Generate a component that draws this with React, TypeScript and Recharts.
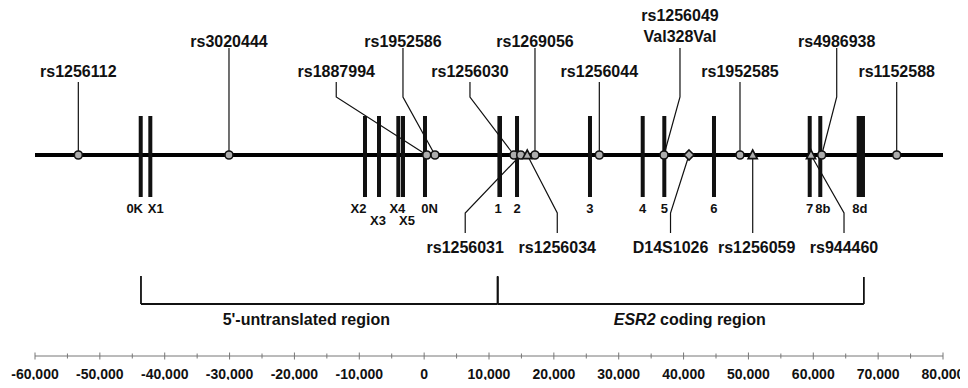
import React from "react";
import { ComposedChart, XAxis, YAxis, Scatter, ReferenceLine, ReferenceDot } from "recharts";

// exons (bp position relative to exon 0N start)
const exonNames = ["0K", "X1", "X2", "X3", "X4", "X5", "0N", "1", "2", "3", "4", "5", "6", "7", "8b", "8d"];
const exonPositions = [-43700, -42220, -9120, -6960, -3980, -3260, 130, 11650, 14320, 25570, 33700, 37030, 44690, 59450, 61080, 67330];

// polymorphisms
const snpNames = [
  "rs1256112", "rs3020444", "rs1887994", "rs1952586", "rs1256030", "rs1256031",
  "rs1256034", "rs1269056", "rs1256044", "rs1256049", "D14S1026", "rs1952585",
  "rs1256059", "rs944460", "rs4986938", "rs1152588",
];
const snpPositions = [
  -53320, -30090, 400, 1670, 13850, 14890,
  15900, 17090, 27010, 36980, 40840, 48700,
  50660, 59650, 61300, 72860,
];
const snpMarkers = [
  "circle", "circle", "circle", "circle", "circle", "circle",
  "triangle", "circle", "circle", "circle", "diamond", "circle",
  "triangle", "triangle", "circle", "circle",
];
const snpNotes: Record<string, string> = { rs1256049: "Val328Val" };

const regionNames = ["5'-untranslated region", "ESR2 coding region"];
const regionStarts = [-43660, 11340];
const regionEnds = [11340, 67800];

const majorTicks = [-60000, -50000, -40000, -30000, -20000, -10000, 0, 10000, 20000, 30000, 40000, 50000, 60000, 70000, 80000];
const minorTicks = [-55000, -45000, -35000, -25000, -15000, -5000, 5000, 15000, 25000, 35000, 45000, 55000, 65000, 75000];

// ---- layout (pixels) ----
const FONT = "'Liberation Sans', Arial, Helvetica, sans-serif";
const INK = "#111";
const GENE_Y = 155; // y axis runs in pixel rows of the plot

const exonLayout: Record<string, { dx?: number; row?: number; w?: number }> = {
  "0K": { dx: -6 },
  X1: { dx: 5.5 },
  X2: { dx: -6.5 },
  X3: { row: 2, dx: -1 },
  X4: { dx: -1 },
  X5: { row: 2, dx: 4 },
  "0N": { dx: 4.5 },
  "1": { w: 4.6, dx: -1.5 },
  "8b": { dx: 2.5 },
  "8d": { w: 8.3, dx: -1 },
};

const snpLayout: Record<string, { side: "top" | "bottom"; tier?: number; dx?: number; textDx?: number }> = {
  rs1256112: { side: "top", tier: 1 },
  rs3020444: { side: "top", tier: 2 },
  rs1887994: { side: "top", tier: 1, dx: -90.5 },
  rs1952586: { side: "top", tier: 2, dx: -32 },
  rs1256030: { side: "top", tier: 1, dx: -44 },
  rs1256031: { side: "bottom", dx: -55.5 },
  rs1256034: { side: "bottom", dx: 30 },
  rs1269056: { side: "top", tier: 2 },
  rs1256044: { side: "top", tier: 1 },
  rs1256049: { side: "top", tier: 2, dx: 16 },
  D14S1026: { side: "bottom", dx: -18.5 },
  rs1952585: { side: "top", tier: 1 },
  rs1256059: { side: "bottom", textDx: 4 },
  rs944460: { side: "bottom", dx: 33 },
  rs4986938: { side: "top", tier: 2, dx: 15 },
  rs1152588: { side: "top", tier: 1 },
};

const regionLabelDx = [-13, 9];

const exonData = exonNames.map((name, i) => ({ name, pos: exonPositions[i], y: GENE_Y + 1.5 }));
const snpData = snpNames.map((name, i) => ({
  name,
  pos: snpPositions[i],
  marker: snpMarkers[i],
  note: snpNotes[name],
  y: GENE_Y,
}));

const fmt = (v: number) => {
  const s = String(Math.abs(v)).replace(/\B(?=(\d{3})+(?!\d))/g, ",");
  return v < 0 ? "-" + s : s;
};

const AxisTick = (props: any) => {
  const { x, y, payload } = props;
  const v = payload.value as number;
  const major = majorTicks.includes(v);
  return (
    <g>
      <line x1={x} x2={x} y1={y - (major ? 3.5 : 2.5)} y2={y + (major ? 3.5 : 2.5)} stroke="#777" strokeWidth={1} />
      {major && (
        <text x={x} y={y + 23} textAnchor="middle" fontFamily={FONT} fontWeight="bold" fontSize={14} fill={INK}>
          {fmt(v)}
        </text>
      )}
    </g>
  );
};

const ExonShape = (props: any) => {
  const { cx, cy, payload } = props;
  const lay = exonLayout[payload.name] || {};
  const w = lay.w ?? 4;
  const row = lay.row ?? 1;
  return (
    <g>
      <rect x={cx - w / 2} y={cy - 40.5} width={w} height={81} fill={INK} />
      <text
        x={cx + (lay.dx ?? 0)}
        y={cy + (row === 2 ? 68.5 : 56.5)}
        textAnchor="middle"
        fontFamily={FONT}
        fontWeight="bold"
        fontSize={13}
        fill={INK}
      >
        {payload.name}
      </text>
    </g>
  );
};

const SnpMarker = ({ cx, cy, marker }: { cx: number; cy: number; marker: string }) => {
  const common = { fill: "#adadad", stroke: INK, strokeWidth: 1.6 };
  if (marker === "triangle") {
    return <polygon points={`${cx},${cy - 5} ${cx - 4.6},${cy + 3.6} ${cx + 4.6},${cy + 3.6}`} {...common} />;
  }
  if (marker === "diamond") {
    return <polygon points={`${cx},${cy - 5} ${cx + 5},${cy} ${cx},${cy + 5} ${cx - 5},${cy}`} {...common} />;
  }
  return <circle cx={cx} cy={cy} r={4} {...common} />;
};

const SnpShape = (props: any) => {
  const { cx, cy, payload } = props;
  const lay = snpLayout[payload.name];
  const dx = lay.dx ?? 0;
  const lx = cx + dx;
  const textProps = { textAnchor: "middle" as const, fontFamily: FONT, fontWeight: "bold", fontSize: 16, fill: INK };
  let leader = "";
  let labels: React.ReactNode = null;
  if (lay.side === "top") {
    const startY = lay.tier === 2 ? cy - 107 : cy - 73;
    leader = dx === 0 ? `M${cx},${startY}L${cx},${cy - 4}` : `M${lx},${startY}L${lx},${cy - 58}L${cx},${cy}`;
    if (payload.note) {
      labels = (
        <>
          <text x={lx} y={cy - 134} {...textProps}>{payload.name}</text>
          <text x={lx} y={cy - 113} {...textProps}>{payload.note}</text>
        </>
      );
    } else {
      labels = (
        <text x={lx} y={lay.tier === 2 ? cy - 108 : cy - 78} {...textProps}>
          {payload.name}
        </text>
      );
    }
  } else {
    leader = dx === 0 ? `M${cx},${cy + 4}L${cx},${cy + 78}` : `M${cx},${cy}L${lx},${cy + 58}L${lx},${cy + 78}`;
    labels = (
      <text x={lx + (lay.textDx ?? 0)} y={cy + 98} {...textProps}>
        {payload.name}
      </text>
    );
  }
  return (
    <g>
      <path d={leader} stroke={INK} strokeWidth={1.2} fill="none" />
      <SnpMarker cx={cx} cy={cy} marker={payload.marker} />
      {labels}
    </g>
  );
};

const RegionLabel = (i: number) => (props: any) => {
  const { cx, cy } = props;
  const name = regionNames[i];
  const italic = name.startsWith("ESR2");
  return (
    <text x={cx + regionLabelDx[i]} y={cy} textAnchor="middle" fontFamily={FONT} fontWeight="bold" fontSize={16} fill={INK}>
      {italic ? (
        <>
          <tspan fontStyle="italic">ESR2</tspan>
          <tspan>{name.slice(4)}</tspan>
        </>
      ) : (
        name
      )}
    </text>
  );
};

export default function App() {
  return (
    <div style={{ margin: -8, background: "#fff", width: 968, height: 388 }}>
      <ComposedChart width={968} height={388} margin={{ top: 0, right: 25, bottom: 0, left: 35 }}>
        <XAxis
          type="number"
          dataKey="pos"
          domain={[-60000, 80000]}
          ticks={[...majorTicks, ...minorTicks].sort((a, b) => a - b)}
          interval={0}
          height={32}
          tickSize={0}
          tickMargin={0}
          axisLine={{ stroke: "#777", strokeWidth: 1 }}
          tick={<AxisTick />}
          allowDataOverflow
        />
        <YAxis type="number" dataKey="y" domain={[0, 356]} reversed hide allowDataOverflow />
        <ReferenceLine y={GENE_Y} stroke="#000" strokeWidth={4} />
        {regionNames.map((_, i) => (
          <React.Fragment key={i}>
            <ReferenceLine segment={[{ x: regionStarts[i], y: 304 }, { x: regionEnds[i], y: 304 }]} stroke={INK} strokeWidth={1.8} />
            <ReferenceLine segment={[{ x: regionStarts[i], y: 276 }, { x: regionStarts[i], y: 304 }]} stroke={INK} strokeWidth={1.8} />
            <ReferenceLine segment={[{ x: regionEnds[i], y: 277 }, { x: regionEnds[i], y: 304 }]} stroke={INK} strokeWidth={1.8} />
            <ReferenceDot x={(regionStarts[i] + regionEnds[i]) / 2} y={325} r={0} shape={RegionLabel(i)} />
          </React.Fragment>
        ))}
        <Scatter data={exonData} dataKey="y" shape={<ExonShape />} isAnimationActive={false} />
        <Scatter data={snpData} dataKey="y" shape={<SnpShape />} isAnimationActive={false} />
      </ComposedChart>
    </div>
  );
}
